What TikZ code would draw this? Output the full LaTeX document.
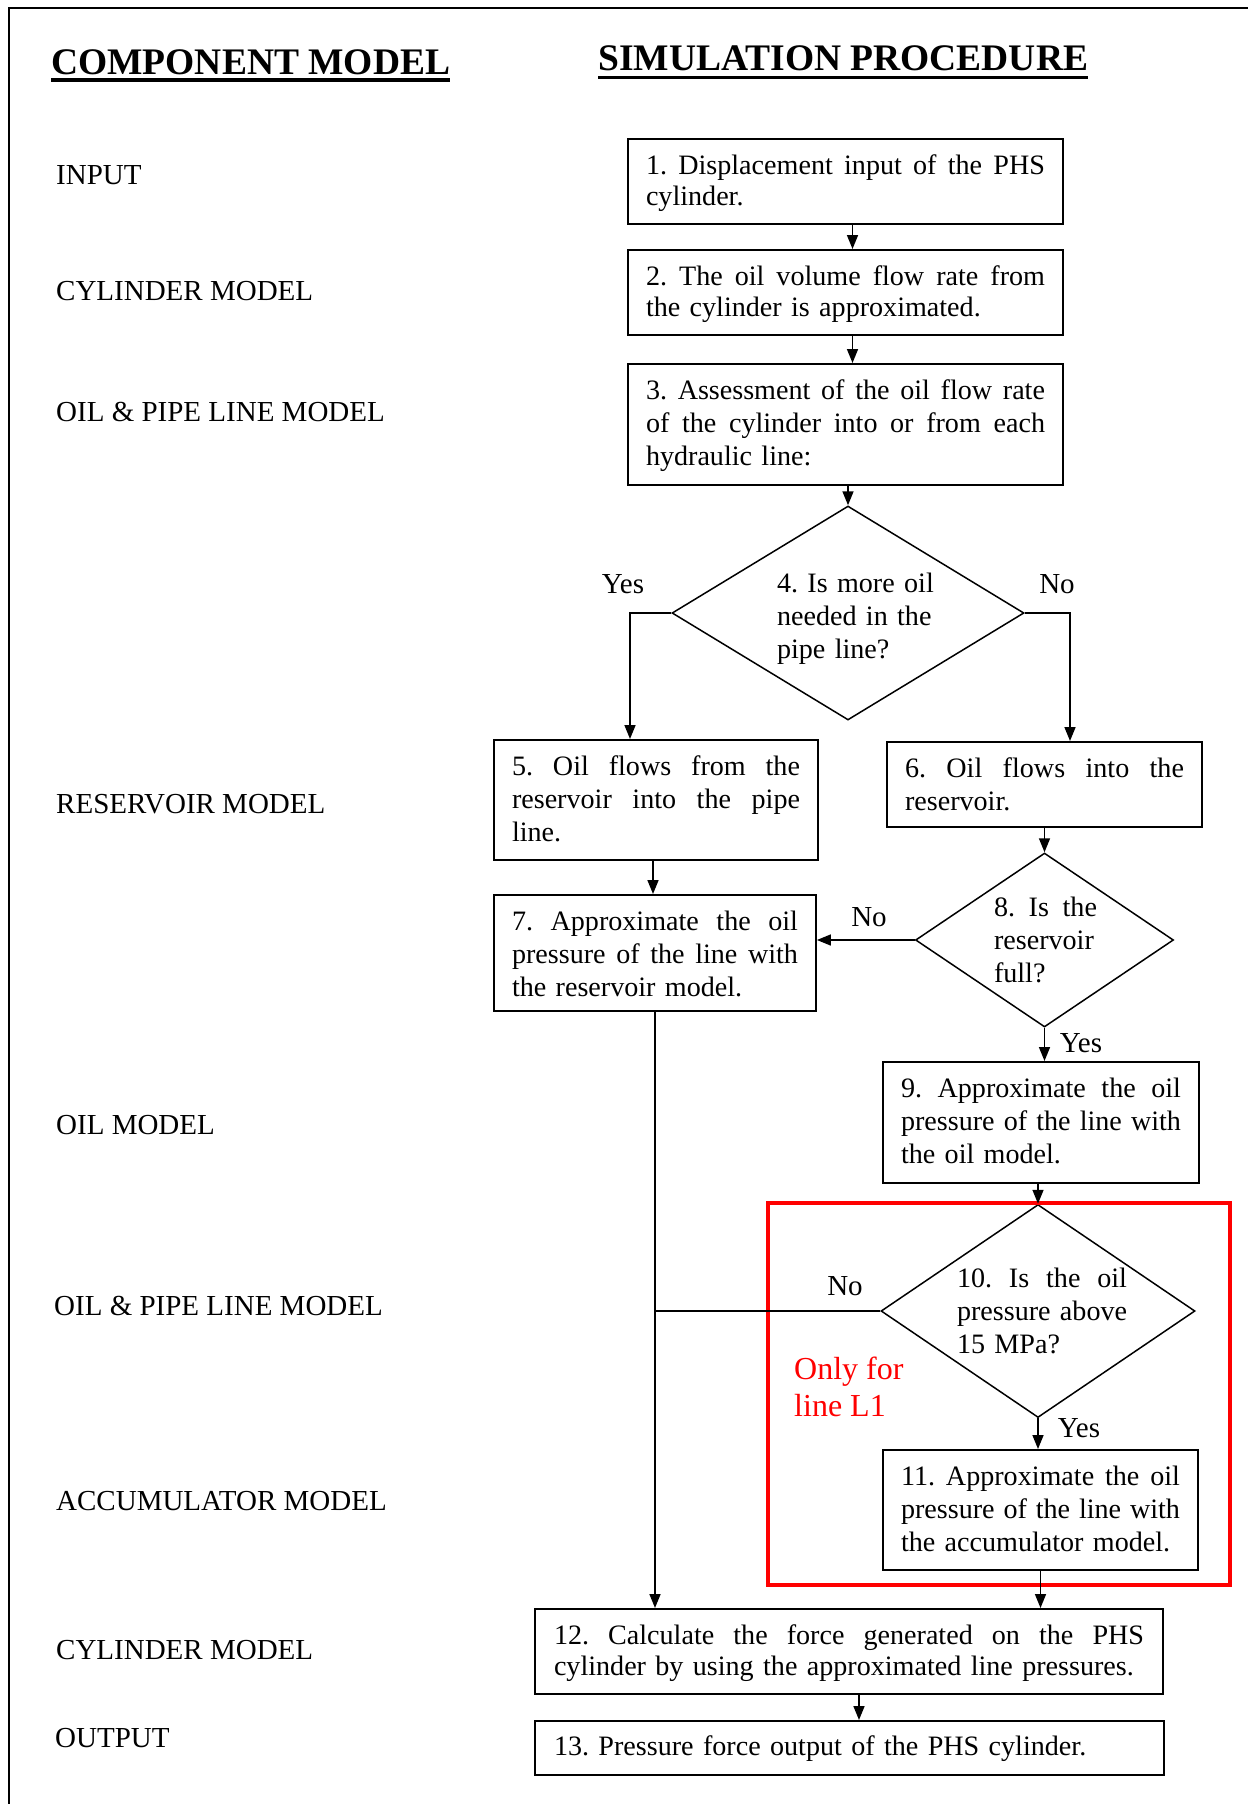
\documentclass[tikz,border=0pt]{standalone}
\usepackage{fontspec}
\setmainfont{Liberation Serif}
\usetikzlibrary{arrows.meta,shapes.geometric,calc}

% a line spread to the full text width (spaces take the extra room)
\newcommand\jline[1]{\makebox[\hsize][s]{\spaceskip=0.25em plus 1fil minus 0.08em\relax #1}}
% fixed ascender/descender so every text block is centred alike
\newcommand\bstrut{\rule[-6pt]{0pt}{26pt}}
\frenchspacing

\begin{document}
\begin{tikzpicture}[x=1pt,y=-1pt,
  every node/.style={font=\fontsize{29}{33}\selectfont},
  body/.style={font=\fontsize{28.1}{33}\selectfont},
  % boxes hang from their top edge; the text depth fixes the box height
  stepbox/.style={draw, line width=1.8pt, anchor=north, inner xsep=18pt, inner ysep=17.5pt,
    text height=18.5pt, align=left, body},
  decision/.style={draw, diamond, line width=1.5pt, inner sep=0pt},
  qtext/.style={inner sep=0pt, align=left, body,
    execute at begin node=\bstrut, execute at end node=\bstrut},
  lbl/.style={anchor=base west, inner sep=0pt},
  ans/.style={anchor=base, inner sep=0pt},
  arr/.style={line width=1.6pt, -{Triangle[length=14pt,width=11pt]}},
  link/.style={line width=1.6pt},
  head/.style={anchor=base west, inner sep=0pt, font=\fontsize{37.5}{40}\selectfont\bfseries},
]
\useasboundingbox (0,0) rectangle (1248,1804);

% outer frame
\draw[line width=2pt] (9,1804) -- (9,7.5) -- (1248,7.5);

% column headings
\node[head] (h1) at (51,74) {COMPONENT MODEL};
\node[head] (h2) at (598,70) {SIMULATION PROCEDURE};
\draw[line width=3.5pt] ([yshift=-6pt]h1.base west) -- ([yshift=-6pt]h1.base east);
\draw[line width=3.5pt] ([yshift=-7.5pt]h2.base west) -- ([yshift=-7.5pt]h2.base east);

% component models
\node[lbl] (c1) at (56,184) {INPUT};
\node[lbl] (c2) at (56,300) {CYLINDER MODEL};
\node[lbl] (c3) at (56,421) {OIL \& PIPE LINE MODEL};
\node[lbl] (c4) at (56,813) {RESERVOIR MODEL};
\node[lbl] (c5) at (56,1134) {OIL MODEL};
\node[lbl] (c6) at (54,1315) {OIL \& PIPE LINE MODEL};
\node[lbl] (c7) at (56,1510) {ACCUMULATOR MODEL};
\node[lbl] (c8) at (56,1659) {CYLINDER MODEL};
\node[lbl] (c9) at (55,1747) {OUTPUT};

% procedure steps
\node[stepbox, text width=399, text depth=31.5pt, font=\fontsize{28.1}{31}\selectfont] (b1) at (845.5,138)
  {\jline{1. Displacement input of the PHS}\\\mbox{cylinder.}};
\node[stepbox, text width=399, text depth=31.5pt, font=\fontsize{28.1}{31}\selectfont] (b2) at (845.5,249)
  {\jline{2. The oil volume flow rate from}\\\mbox{the cylinder is approximated.}};
\node[stepbox, text width=399, text depth=67.5pt] (b3) at (845.5,363)
  {\jline{3. Assessment of the oil flow rate}\\\jline{of the cylinder into or from each}\\\mbox{hydraulic line:}};

\node[decision, minimum width=352, minimum height=214] (d4) at (848,613) {};
\node[qtext, text width=170] (d4t) at (862,618) {\mbox{4. Is more oil}\\\mbox{needed in the}\\\mbox{pipe line?}};

\node[stepbox, text width=288, text depth=66.5pt] (b5) at (656,739)
  {\jline{5. Oil flows from the}\\\jline{reservoir into the pipe}\\\mbox{line.}};
\node[stepbox, text width=279, text depth=31.5pt] (b6) at (1044.5,741)
  {\jline{6. Oil flows into the}\\\mbox{reservoir.}};
\node[stepbox, text width=286, text depth=62.5pt] (b7) at (655,894)
  {\jline{7. Approximate the oil}\\\jline{pressure of the line with}\\\mbox{the reservoir model.}};

\node[decision, minimum width=258, minimum height=174] (d8) at (1044.5,940) {};
\node[qtext, text width=103] (d8t) at (1045.5,942) {\jline{8. Is the}\\\mbox{reservoir}\\\mbox{full?}};

\node[stepbox, text width=280, text depth=67.5pt] (b9) at (1041,1061)
  {\jline{9. Approximate the oil}\\\jline{pressure of the line with}\\\mbox{the oil model.}};

\node[decision, minimum width=314, minimum height=213] (d10) at (1038,1311) {};
\node[qtext, text width=170] (d10t) at (1042,1313) {\jline{10. Is the oil}\\\mbox{pressure above}\\\mbox{15 MPa?}};

\node[stepbox, text width=279, text depth=66.5pt] (b11) at (1040.5,1449)
  {\jline{11. Approximate the oil}\\\jline{pressure of the line with}\\\mbox{the accumulator model.}};

\node[stepbox, inner xsep=19pt, text width=590, text depth=31.5pt, font=\fontsize{28.1}{31}\selectfont] (b12) at (849,1608)
  {\jline{12. Calculate the force generated on the PHS}\\\mbox{cylinder by using the approximated line pressures.}};
\node[stepbox, inner xsep=19pt, inner ysep=15.5pt, text width=591, text height=19.5pt, text depth=3.5pt] (b13) at (849.5,1720)
  {\mbox{13. Pressure force output of the PHS cylinder.}};

% region valid for line L1 only
\node[draw=red, line width=4.5pt, minimum width=462, minimum height=382, inner sep=0pt] (l1) at (999,1394) {};
\node[anchor=north west, inner sep=0pt, align=left, text=red, font=\fontsize{32}{37}\selectfont] (l1t) at (794,1357)
  {\rule{0pt}{22pt}Only for\\line L1};

% branch answers
\node[ans] (y4) at (623,593) {Yes};
\node[ans] (n4) at (1057,593) {No};
\node[ans] (n8) at (869,926) {No};
\node[ans] (y8) at (1081,1052) {Yes};
\node[ans] (n10) at (845,1295) {No};
\node[ans] (y10) at (1079,1437) {Yes};

% connectors
\draw[arr] ([xshift=7pt]b1.south) -- ([xshift=7pt]b2.north);
\draw[arr] ([xshift=7pt]b2.south) -- ([xshift=7pt]b3.north);
\draw[arr] (b3.south -| d4.north) -- (d4.north);
\draw[arr] (d4.west) -| ([xshift=-26pt]b5.north);
\draw[arr] (d4.east) -| ([xshift=25.5pt]b6.north);
\draw[arr] ([xshift=-3pt]b5.south) -- ([xshift=-3pt]b5.south |- b7.north);
\draw[arr] (b6.south) -- (d8.north);
\draw[arr] (d8.west) -- (d8.west -| b7.east);
\draw[arr] (d8.south) -- (d8.south |- b9.north);
\draw[arr] (b9.south -| d10.north) -- (d10.north);
\draw[arr] (d10.south) -- (d10.south |- b11.north);
\draw[arr] (b11.south) -- (b11.south |- b12.north);
\draw[arr] (b7.south) -- (b7.south |- b12.north);
\draw[link] (d10.west) -- (d10.west -| b7.south);
\draw[arr] ([xshift=10pt]b12.south) -- ([xshift=10pt]b12.south |- b13.north);
\end{tikzpicture}
\end{document}
